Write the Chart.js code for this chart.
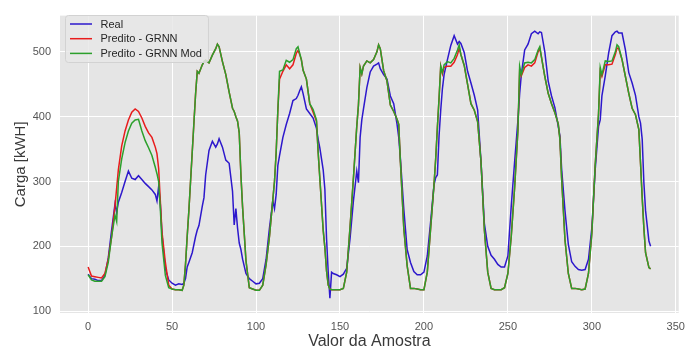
<!DOCTYPE html>
<html><head><meta charset="utf-8">
<script src="https://cdn.jsdelivr.net/npm/chart.js@4"></script>
<style>html,body{margin:0;padding:0;background:#fff}canvas{display:block}</style>
</head><body>
<canvas id="c" width="692" height="353"></canvas>
<script>
const sampleIdx = [
  0,2,4,6,8,10,12,14,16,17,
  18,20,22,24,26,28,30,32,34,36,
  38,40,41,42,43,44,46,48,50,52,
  54,56,57,58,59,60,62,64,65,66,
  68,69,70,72,74,76,77,78,80,82,
  84,86,87,88,89,90,91,92,94,96,
  98,100,102,104,106,108,110,111,112,113,
  114,116,118,120,122,124,125,126,127,128,
  130,132,134,136,137,138,140,141,142,143,
  144,145,146,148,150,152,154,156,158,160,
  161,162,163,164,166,168,170,172,173,174,
  176,178,180,182,184,185,186,188,190,192,
  194,196,198,200,202,204,206,207,208,209,
  210,211,212,214,216,218,220,221,222,224,
  226,228,230,232,234,236,238,240,242,244,
  246,248,250,252,254,256,257,258,260,262,
  264,266,268,269,270,272,274,276,278,280,
  281,282,284,286,288,290,292,294,296,298,
  300,302,304,305,306,308,310,312,314,315,
  316,318,320,322,324,326,328,329,330,331,
  332,334,335
];
const realLoad = [
  157,150,149,147,147,155,182,225,265,252,
  268,283,300,316,305,303,309,303,297,292,
  287,280,270,292,265,218,165,148,143,140,
  142,141,143,150,168,175,190,215,225,232,
  262,275,310,348,362,353,358,366,353,333,
  328,285,233,258,228,205,195,180,158,150,
  146,142,143,150,180,228,270,258,280,325,
  340,368,388,405,425,428,433,440,446,436,
  412,405,398,382,365,352,318,288,212,160,
  120,160,158,156,153,157,166,212,270,316,
  298,368,395,412,445,469,478,481,483,474,
  465,458,432,420,388,368,335,258,195,175,
  161,156,156,160,185,238,295,306,310,370,
  410,443,465,488,510,525,512,516,513,499,
  470,452,433,410,330,235,200,186,180,172,
  168,168,185,262,330,395,435,465,503,512,
  528,532,528,531,530,500,455,432,414,385,
  370,320,255,203,176,169,164,163,164,180,
  228,318,385,395,432,463,498,525,531,532,
  529,529,503,468,452,433,400,390,365,298,
  255,208,200
];
const grnnPred = [
  168,154,153,152,151,158,180,215,262,290,
  318,355,378,395,407,412,408,398,385,375,
  368,353,343,320,270,222,175,140,134,133,
  133,132,140,172,215,255,345,435,470,467,
  480,485,487,483,495,505,512,508,485,465,
  438,413,408,400,393,375,310,260,178,136,
  134,132,132,140,172,215,272,300,345,410,
  458,470,480,474,480,498,502,496,488,472,
  458,420,407,393,345,305,225,198,162,140,
  134,133,133,133,133,135,160,230,305,385,
  418,476,466,478,486,483,488,500,511,505,
  471,455,418,408,396,388,330,228,170,135,
  135,134,133,133,160,228,295,335,383,428,
  478,466,476,478,478,484,496,506,496,479,
  450,420,410,392,330,225,160,135,133,133,
  133,136,158,215,290,380,470,463,476,480,
  478,483,500,506,492,462,436,420,406,389,
  365,305,210,158,135,135,134,133,134,158,
  220,325,405,470,462,480,480,481,496,506,
  505,488,462,436,413,403,380,328,275,228,
  190,167,165
];
const grnnModPred = [
  156,148,146,146,146,153,175,215,248,238,
  300,335,360,378,390,395,396,378,363,352,
  340,322,312,300,258,205,155,136,134,133,
  133,132,140,172,215,255,345,435,470,467,
  480,485,487,483,495,505,512,508,485,465,
  438,413,408,400,393,375,310,260,178,136,
  134,132,132,140,172,215,272,300,345,410,
  470,472,487,484,488,505,508,498,488,472,
  458,420,411,395,345,305,225,198,162,140,
  134,133,133,133,133,135,160,230,305,385,
  418,476,466,478,486,483,488,500,511,505,
  471,455,418,408,396,388,330,228,170,135,
  135,134,133,133,160,228,295,335,383,428,
  478,468,480,485,483,490,503,511,496,479,
  450,420,410,392,330,225,160,135,133,133,
  133,136,158,215,290,380,478,465,483,484,
  483,488,503,508,492,462,436,420,406,389,
  365,305,210,158,135,135,134,133,134,158,
  220,325,405,476,465,486,485,486,500,511,
  508,488,462,436,413,403,380,328,275,228,
  190,167,165
];
const seriesLabels = ['Real', 'Predito - GRNN', 'Predito - GRNN Mod'];
const seriesColors = ['#2d18cc', '#e81c1c', '#2ca02c'];
const xTickValues = [0, 50, 100, 150, 200, 250, 300, 350];
const yTickValues = [100, 200, 300, 400, 500];
const xAxisTitle = 'Valor da Amostra';
const yAxisTitle = 'Carga [kWH]';

const FONT = '"Liberation Sans", Arial, sans-serif';
const toPoints = arr => sampleIdx.map((x, i) => ({ x: x, y: arr[i] }));

const bgPlugin = {
  id: 'plotBg',
  beforeDraw(chart) {
    const { ctx, chartArea: a } = chart;
    ctx.save();
    ctx.fillStyle = '#e5e5e5';
    ctx.fillRect(a.left, a.top, a.right - a.left, a.bottom - a.top);
    ctx.restore();
  }
};

const legendPlugin = {
  id: 'insideLegend',
  afterDatasetsDraw(chart) {
    const ctx = chart.ctx;
    ctx.save();
    ctx.font = '11px ' + FONT;
    let maxW = 0;
    seriesLabels.forEach(l => { maxW = Math.max(maxW, ctx.measureText(l).width); });
    const bx = 65, by = 15, textX = 100.5;
    const bw = textX + maxW + 6 - bx, bh = 47;
    ctx.beginPath();
    if (ctx.roundRect) ctx.roundRect(bx + 0.5, by + 0.5, bw, bh, 3); else ctx.rect(bx + 0.5, by + 0.5, bw, bh);
    ctx.fillStyle = 'rgba(232,232,232,0.85)';
    ctx.fill();
    ctx.strokeStyle = '#d2d2d2';
    ctx.lineWidth = 1;
    ctx.stroke();
    seriesLabels.forEach((l, i) => {
      const y = 24 + i * 14.7;
      ctx.strokeStyle = seriesColors[i];
      ctx.lineWidth = 1.5;
      ctx.beginPath();
      ctx.moveTo(70, y);
      ctx.lineTo(92, y);
      ctx.stroke();
      ctx.fillStyle = '#262626';
      ctx.textBaseline = 'middle';
      ctx.textAlign = 'left';
      ctx.fillText(l, textX, y + 0.5);
    });
    ctx.restore();
  }
};

const titlePlugin = {
  id: 'axisTitles',
  afterDraw(chart) {
    const ctx = chart.ctx;
    const a = chart.chartArea;
    ctx.save();
    ctx.fillStyle = '#3a3a3a';
    ctx.textAlign = 'center';
    ctx.textBaseline = 'middle';
    ctx.font = '16px ' + FONT;
    ctx.fillText(xAxisTitle, (a.left + a.right) / 2, 342);
    ctx.translate(21, (a.top + a.bottom) / 2);
    ctx.rotate(-Math.PI / 2);
    ctx.font = '15px ' + FONT;
    ctx.fillText(yAxisTitle, 0, 0);
    ctx.restore();
  }
};

const mk = (i, data, order) => ({
  label: seriesLabels[i],
  data: toPoints(data),
  borderColor: seriesColors[i],
  backgroundColor: seriesColors[i],
  borderWidth: 1.5,
  pointRadius: 0,
  tension: 0,
  fill: false,
  order: order
});

new Chart(document.getElementById('c'), {
  type: 'line',
  data: {
    datasets: [
      mk(0, realLoad, 3),
      mk(1, grnnPred, 2),
      mk(2, grnnModPred, 1)
    ]
  },
  options: {
    responsive: false,
    animation: false,
    devicePixelRatio: 1,
    layout: { padding: { top: 10, right: 8, left: 0, bottom: 0 } },
    plugins: { legend: { display: false }, tooltip: { enabled: false } },
    scales: {
      x: {
        type: 'linear',
        min: -16.75,
        max: 351.75,
        afterBuildTicks: s => { s.ticks = xTickValues.map(v => ({ value: v })); },
        afterFit: s => { s.height = 40; },
        grid: { color: '#ffffff', lineWidth: 1, drawTicks: false },
        border: { display: false },
        ticks: { color: '#555555', font: { size: 11, family: FONT }, padding: 7, maxRotation: 0, autoSkip: false }
      },
      y: {
        type: 'linear',
        min: 97,
        max: 556,
        afterBuildTicks: s => { s.ticks = yTickValues.map(v => ({ value: v })); },
        afterFit: s => { s.width = 60; },
        grid: { color: '#ffffff', lineWidth: 1, drawTicks: false },
        border: { display: false },
        ticks: { color: '#555555', font: { size: 11, family: FONT }, padding: 9 }
      }
    }
  },
  plugins: [bgPlugin, legendPlugin, titlePlugin]
});
</script>
</body></html>
